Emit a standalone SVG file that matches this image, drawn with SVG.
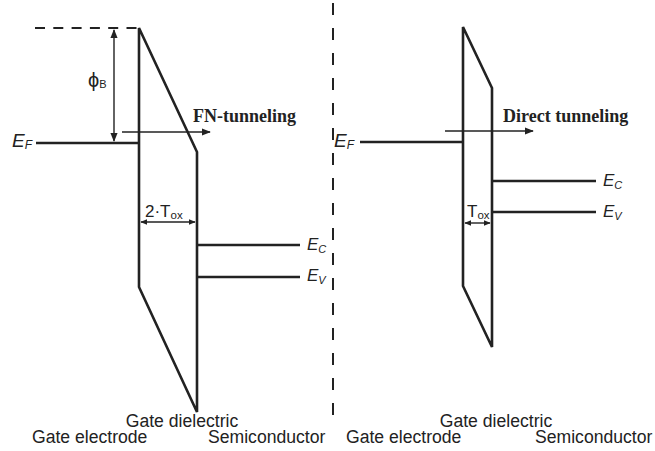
<svg xmlns="http://www.w3.org/2000/svg" width="655" height="451" viewBox="0 0 655 451">
<defs>
<marker id="ah" viewBox="0 0 10 10" refX="9" refY="5" markerWidth="7" markerHeight="7" markerUnits="userSpaceOnUse" orient="auto-start-reverse">
<path d="M0,1 L10,5 L0,9 Z" fill="#222"/>
</marker>
<marker id="ahb" viewBox="0 0 10 10" refX="9" refY="5" markerWidth="9" markerHeight="9" markerUnits="userSpaceOnUse" orient="auto-start-reverse">
<path d="M0,1 L10,5 L0,9 Z" fill="#222"/>
</marker>
</defs>
<style>
.band{fill:none;stroke:#222;stroke-width:2.6;stroke-linejoin:miter}
.lvl{stroke:#222;stroke-width:2.6}
.arr{stroke:#222;stroke-width:1.4;fill:none}
.dash{stroke:#222;stroke-width:2;fill:none}
.sans{font-family:"Liberation Sans",Arial,sans-serif;fill:#222}
.lbl{font-size:17.6px}
.it{font-style:italic}
.serif{font-family:"Liberation Serif","Times New Roman",serif;font-weight:bold;font-size:18px;fill:#222}
</style>
<rect width="655" height="451" fill="#fff"/>

<g id="divider">
<line class="dash" x1="333" y1="3" x2="333" y2="421" stroke-dasharray="12,13"/>
</g>

<g id="left-barrier">
<path class="band" d="M139,28 L139,287 L197,412 L197,152 Z"/>
<line class="dash" x1="35" y1="28" x2="139" y2="28" stroke-dasharray="10,8.3"/>
</g>
<g id="left-EF">
<line class="lvl" x1="36" y1="143" x2="139" y2="143"/>
<text class="sans it" x="12" y="147" font-size="19">E<tspan font-size="12" dy="2">F</tspan></text>
</g>
<g id="left-EC">
<line class="lvl" x1="197" y1="245" x2="300" y2="245"/>
<text class="sans it" x="307" y="250" font-size="17">E<tspan font-size="11" dy="3">C</tspan></text>
</g>
<g id="left-EV">
<line class="lvl" x1="197" y1="277" x2="300" y2="277"/>
<text class="sans it" x="307" y="281" font-size="17">E<tspan font-size="11" dy="3">V</tspan></text>
</g>
<g id="left-labels">
<text class="sans lbl" x="182" y="427" text-anchor="middle">Gate dielectric</text>
<text class="sans lbl" x="32" y="443">Gate electrode</text>
<text class="sans lbl" x="208" y="443">Semiconductor</text>
<text class="serif" x="193" y="122">FN-tunneling</text>
<text class="sans" x="88" y="87" font-size="20">ϕ<tspan font-size="11" dy="1">B</tspan></text>
<text class="sans" x="145" y="217" font-size="17">2·T<tspan font-size="11.5" dy="2">ox</tspan></text>
</g>

<g id="right-barrier">
<path class="band" d="M463,27 L463,286 L492,347 L492,88 Z"/>
</g>
<g id="right-EF">
<line class="lvl" x1="360" y1="142" x2="463" y2="142"/>
<text class="sans it" x="334" y="147" font-size="19">E<tspan font-size="12" dy="2">F</tspan></text>
</g>
<g id="right-EC">
<line class="lvl" x1="492" y1="181" x2="596" y2="181"/>
<text class="sans it" x="603" y="186" font-size="17">E<tspan font-size="11" dy="3">C</tspan></text>
</g>
<g id="right-EV">
<line class="lvl" x1="492" y1="212" x2="596" y2="212"/>
<text class="sans it" x="603" y="217" font-size="17">E<tspan font-size="11" dy="3">V</tspan></text>
</g>
<g id="right-labels">
<text class="sans lbl" x="496" y="427" text-anchor="middle">Gate dielectric</text>
<text class="sans lbl" x="346" y="443">Gate electrode</text>
<text class="sans lbl" x="535" y="443">Semiconductor</text>
<text class="serif" x="503" y="122">Direct tunneling</text>
<text class="sans" x="467" y="217" font-size="17">T<tspan font-size="11.5" dy="2">ox</tspan></text>
</g>

<g id="connectors">
<line class="arr" x1="114" y1="30" x2="114" y2="141" marker-start="url(#ahb)" marker-end="url(#ahb)"/>
<line class="arr" x1="122" y1="132" x2="210" y2="132" marker-end="url(#ahb)"/>
<line class="arr" x1="141" y1="222" x2="195" y2="222" marker-start="url(#ah)" marker-end="url(#ah)"/>
<line class="arr" x1="445" y1="131" x2="533" y2="131" marker-end="url(#ahb)"/>
<line class="arr" x1="465" y1="223" x2="490" y2="223" marker-start="url(#ah)" marker-end="url(#ah)"/>
</g>
</svg>
